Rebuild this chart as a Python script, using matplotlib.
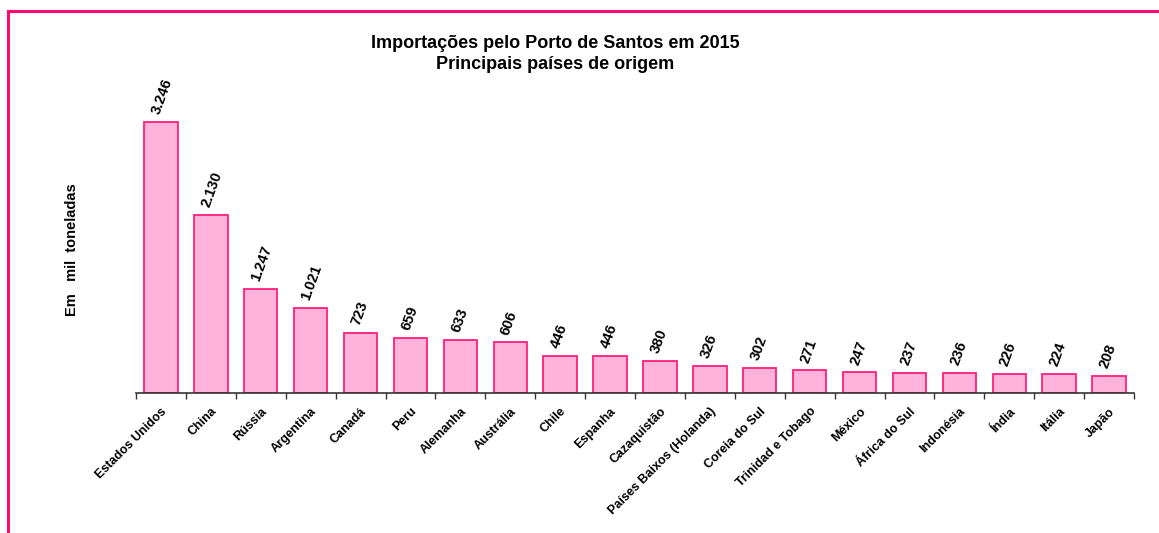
import matplotlib
matplotlib.use("Agg")
import matplotlib.pyplot as plt
from matplotlib.lines import Line2D
import numpy as np

countries = ["Estados Unidos", "China", "Rússia", "Argentina", "Canadá", "Peru",
             "Alemanha", "Austrália", "Chile", "Espanha", "Cazaquistão",
             "Países Baixos (Holanda)", "Coreia do Sul", "Trinidad e Tobago",
             "México", "África do Sul", "Indonésia", "Índia", "Itália", "Japão"]
values = [3246, 2130, 1247, 1021, 723, 659, 633, 606, 446, 446, 380, 326, 302,
          271, 247, 237, 236, 226, 224, 208]
title_lines = ["Importações pelo Porto de Santos em 2015", "Principais países de origem"]

plt.rcParams['font.family'] = ['Liberation Sans', 'DejaVu Sans']

W, H = 1159, 533
fig = plt.figure(figsize=(W / 100, H / 100), dpi=100)
ax = fig.add_axes([136 / W, 1 - 393 / H, (1134 - 136) / W, (393 - 59) / H])

x = np.arange(len(countries))
ax.bar(x, values, width=0.67, color="#FFB3DA", edgecolor="#FF1F7A", linewidth=1.3)

for xi, v in zip(x, values):
    lbl = f"{v:,}".replace(",", ".")
    ax.text(xi + 0.03, v + 70, lbl, rotation=70, ha="left", va="bottom",
            rotation_mode="anchor", fontsize=10.5, fontweight="bold", color="black")

ax.set_xlim(-0.5, len(countries) - 0.5)
ax.set_ylim(0, 4000)
ax.set_xticks(x)
ax.set_xticklabels(countries, rotation=45, ha="right", rotation_mode="anchor",
                   fontsize=9, fontweight="bold")
ax.tick_params(axis="x", which="major", length=0, pad=9)
ax.set_xticks(np.arange(-0.5, len(countries), 1.0), minor=True)
ax.tick_params(axis="x", which="minor", length=4, width=1, color="#333333", direction="out")
ax.set_yticks([])
for s in ["top", "right", "left"]:
    ax.spines[s].set_visible(False)
ax.spines["bottom"].set_color("#333333")
ax.spines["bottom"].set_linewidth(1.2)

fig.text(72 / W, 1 - 250 / H, "Em   mil  toneladas", rotation=90, ha="center", va="center",
         fontsize=10.5, fontweight="bold")
fig.text(555 / W, 1 - 44 / H, title_lines[0], ha="center", va="center",
         fontsize=13, fontweight="bold")
fig.text(555 / W, 1 - 64 / H, title_lines[1], ha="center", va="center",
         fontsize=13, fontweight="bold")

# pink frame (top and left visible)
fig.add_artist(Line2D([8 / W, 1.01], [1 - 11 / H, 1 - 11 / H], color="#FF0A6E", linewidth=2.2,
                      transform=fig.transFigure))
fig.add_artist(Line2D([8 / W, 8 / W], [1 - 11 / H, -0.01], color="#FF0A6E", linewidth=2.2,
                      transform=fig.transFigure))

fig.savefig("out.png", dpi=100)
